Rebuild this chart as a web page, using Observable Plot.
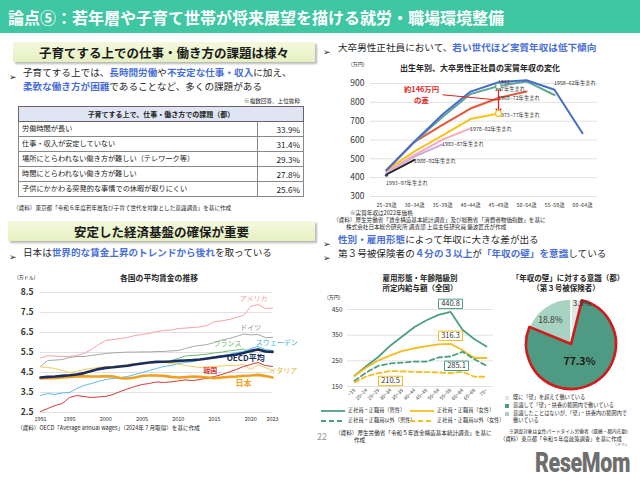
<!DOCTYPE html>
<html><head><meta charset="utf-8">
<script src="https://cdn.jsdelivr.net/npm/d3@7"></script>
<script src="https://cdn.jsdelivr.net/npm/@observablehq/plot@0.6"></script>
<style>
html,body{margin:0;padding:0;background:#fff;}
#slide{position:relative;width:640px;height:478px;overflow:hidden;background:#fff;font-family:"Noto Sans CJK JP","Noto Sans",sans-serif;color:#262626;}
.t{position:absolute;white-space:nowrap;line-height:1.15;}
.hl{color:#4a6fd6;font-weight:bold;}
.box{position:absolute;background:linear-gradient(#f4f9de,#e5f0c0);box-shadow:2px 2px 2px rgba(0,0,0,0.28);display:flex;align-items:center;justify-content:center;font-weight:bold;font-size:12.5px;color:#1a1a1a;}
.chart{position:absolute;}
.chart svg{overflow:visible;}
table.tb{position:absolute;border-collapse:collapse;font-size:7.2px;color:#222;}
table.tb td, table.tb th{padding:0;line-height:1;}
</style></head><body><div id="slide"></div>
<script>
const FONT = '"Noto Sans CJK JP","Noto Sans",sans-serif';

// ---------- data ----------
const issueLabels = ["労働時間が長い","仕事・収入が安定していない","場所にとらわれない働き方が難しい（テレワーク等）","時間にとらわれない働き方が難しい","子供にかかわる突発的な事情での休暇が取りにくい"];
const issueValues = [33.9, 31.4, 29.3, 27.8, 25.6];

const years = [1991,1992,1993,1994,1995,1996,1997,1998,1999,2000,2001,2002,2003,2004,2005,2006,2007,2008,2009,2010,2011,2012,2013,2014,2015,2016,2017,2018,2019,2020,2021,2022,2023];
const yearTicks = [1991,1995,2000,2005,2010,2015,2020,2023];
const wageTicks = [2.5,3.5,4.5,5.5,6.5,7.5,8.5];
const usa     = [5.22,5.34,5.32,5.3,5.3,5.35,5.45,5.65,5.9,6.1,6.15,6.2,6.25,6.35,6.4,6.45,6.55,6.6,6.62,6.7,6.72,6.75,6.78,6.85,7.05,7.08,7.15,7.25,7.35,7.8,7.9,7.7,7.72];
const germany = [4.8,5.1,5.12,5.15,5.25,5.3,5.3,5.35,5.4,5.45,5.48,5.5,5.52,5.52,5.53,5.53,5.55,5.55,5.58,5.6,5.7,5.8,5.85,5.9,6.0,6.12,6.2,6.3,6.42,6.38,6.4,6.25,6.25];
const france  = [4.2,4.28,4.3,4.33,4.38,4.42,4.45,4.55,4.65,4.72,4.78,4.82,4.88,4.92,4.98,5.0,5.03,5.05,5.1,5.2,5.33,5.35,5.38,5.42,5.48,5.52,5.58,5.62,5.68,5.45,5.7,5.6,5.55];
const sweden  = [3.35,3.45,3.4,3.48,3.5,3.7,3.85,3.95,4.05,4.15,4.2,4.25,4.3,4.4,4.5,4.6,4.7,4.8,4.85,4.95,5.0,5.05,5.15,5.2,5.3,5.35,5.4,5.5,5.55,5.7,5.8,5.65,5.6];
const oecdAvg = [4.25,4.28,4.3,4.33,4.36,4.4,4.47,4.57,4.67,4.73,4.76,4.8,4.84,4.9,4.95,5.0,5.03,5.04,5.05,5.08,5.1,5.12,5.15,5.2,5.25,5.3,5.35,5.4,5.48,5.58,5.65,5.55,5.53];
const italy   = [4.78,4.75,4.7,4.6,4.5,4.55,4.65,4.7,4.75,4.78,4.8,4.85,4.9,4.95,4.95,4.97,5.0,5.0,4.95,4.92,4.85,4.8,4.75,4.78,4.8,4.83,4.85,4.85,4.9,4.65,4.88,4.75,4.6];
const japan   = [4.2,4.23,4.22,4.25,4.28,4.3,4.32,4.3,4.3,4.32,4.3,4.22,4.2,4.25,4.33,4.35,4.35,4.33,4.28,4.25,4.27,4.3,4.28,4.25,4.22,4.25,4.28,4.3,4.33,4.35,4.38,4.33,4.25];
const korea   = [2.55,2.7,2.85,2.95,3.25,3.35,3.3,3.25,3.28,3.3,3.4,3.55,3.68,3.8,3.9,3.95,4.03,4.0,4.03,4.08,4.13,4.1,4.15,4.22,4.3,4.4,4.52,4.65,4.8,4.9,5.0,4.85,4.8];

const genCats = ["25~29歳","30~34歳","35~39歳","40~44歳","45~49歳","50~54歳","55~59歳","60~64歳"];
const genTicks = [300,400,500,600,700,800,900];
const gen1958 = [440,592,735,857,907,917,867,636];
const gen1963 = [440,590,722,844,886,911,839];
const gen1968 = [440,590,680,767,823,858];
const gen1973 = [440,540,624,711,741];
const gen1978 = [432,520,602,662];
const gen1983 = [428,512,577];
const gen1988 = [418,494];
const gen1993 = [413];

const ageCats = ["~19","20~24","25~29","30~34","35~39","40~44","45~49","50~54","55~59","60~64","65~69","70~"];
const payTicks = [150,250,350,450];
const maleRegular    = [192,230,266,310,346,382,408,429,440.8,371,334,306];
const femaleRegular  = [192,224,252,271,289,299,307,314,316.3,291,261,261];
const maleNonReg     = [172,205,231,240,243,247,247,263,267,285.1,256,231];
const femaleNonReg   = [166,190,202,210.5,209,207,206,205,202,208,188,188];

const pieLabels = ["既に「壁」を超えて働いている","意識して「壁」・扶養の範囲内で働いている","意識したことはないが、「壁」・扶養内の範囲内で働いている"];
const pieValues = [3.9, 77.3, 18.8];

// ---------- helpers ----------
const slide = document.getElementById("slide");
function T(x, y, html, css = "", anchor = "start") {
  const d = document.createElement("div");
  d.className = "t";
  d.innerHTML = html;
  d.style.cssText += `left:${x}px;top:${y}px;` + css;
  const tx = anchor === "middle" ? "-50%" : anchor === "end" ? "-100%" : "0";
  d.style.transform = `translate(${tx},-50%)`;
  slide.appendChild(d);
  return d;
}
function place(node, x, y) {
  const w = document.createElement("div");
  w.className = "chart"; w.style.left = x + "px"; w.style.top = y + "px";
  w.appendChild(node); slide.appendChild(w);
}
function box(x, y, w, h, text) {
  const d = document.createElement("div");
  d.className = "box";
  d.style.cssText += `left:${x}px;top:${y}px;width:${w}px;height:${h}px;`;
  d.textContent = text; slide.appendChild(d);
}
const BUL = '<span style="font-family:DejaVu Sans;font-size:9px;">➢</span>';

// ---------- header ----------
const bar = document.createElement("div");
bar.style.cssText = "position:absolute;left:0;top:0;width:640px;height:33px;background:#3fc6a3;";
slide.appendChild(bar);
T(8, 17, "論点⑤：若年層や子育て世帯が将来展望を描ける就労・職場環境整備", "color:#fff;font-weight:bold;font-size:16px;");

// ---------- left top ----------
box(13, 42, 302, 20, "子育てする上での仕事・働き方の課題は様々");
T(9, 73, BUL, "");
T(23, 73, '子育てする上では、<span class="hl">長時間労働</span>や<span class="hl">不安定な仕事・収入</span>に加え、', "font-size:9.6px;");
T(23, 87, '<span class="hl">柔軟な働き方が困難</span>であることなど、多くの課題がある', "font-size:9.6px;");
T(300, 101, "※複数回答、上位抜粋", "font-size:5.6px;", "end");

const tb = document.createElement("table");
tb.className = "tb";
tb.style.cssText += "left:18px;top:106px;width:286px;border:1px solid #555;";
let rows = `<tr><th colspan="2" style="height:14px;background:#dfe5f3;border:1px solid #666;font-size:7px;font-weight:bold;">子育てする上で、仕事・働き方での課題（都）</th></tr>`;
issueLabels.forEach((l, i) => {
  rows += `<tr><td style="height:14px;border:1px solid #888;padding-left:3px;">${l}</td><td style="width:42px;text-align:right;padding-right:3px;border:1px solid #888;font-size:8.2px;">${issueValues[i].toFixed(1)}%</td></tr>`;
});
tb.innerHTML = rows;
slide.appendChild(tb);
T(13, 208, "（資料）東京都「令和６年度若年層及び子育て世代を対象とした意識調査」を基に作成", "font-size:5.6px;");

// ---------- left bottom ----------
box(8, 221, 307, 20, "安定した経済基盤の確保が重要");
T(9, 253, BUL, "");
T(23, 253, '日本は<span class="hl">世界的な賃金上昇のトレンドから後れ</span>を取っている', "font-size:9.6px;");
T(159, 278, "各国の平均賃金の推移", "font-size:7.8px;font-weight:bold;", "middle");
T(17, 277, "(万ドル)", "font-size:5px;");
T(17, 428, "（資料）OECD「Average annual wages」（2024年７月取得）を基に作成", "font-size:5.6px;");

const oecdSeries = [
  {name:"アメリカ", values:usa, color:"#f3a3ab", w:1},
  {name:"ドイツ", values:germany, color:"#a8a8a8", w:1},
  {name:"フランス", values:france, color:"#6db86d", w:1},
  {name:"スウェーデン", values:sweden, color:"#5cbde8", w:1},
  {name:"イタリア", values:italy, color:"#f4cc5c", w:1},
  {name:"韓国", values:korea, color:"#d23a3a", w:1},
  {name:"日本", values:japan, color:"#f0a020", w:2.6},
  {name:"OECD平均", values:oecdAvg, color:"#1b2d5c", w:2.6}
];
const oecdLabelSpec = [
  {name:"アメリカ", year:2020.4, value:8.18, color:"#f3a3ab", weight:"normal", size:7},
  {name:"ドイツ", year:2020.0, value:6.74, color:"#8c8c8c", weight:"normal", size:7},
  {name:"フランス", year:2016.8, value:5.94, color:"#6db86d", weight:"normal", size:7},
  {name:"スウェーデン", year:2023.6, value:5.99, color:"#3ab0e2", weight:"normal", size:7},
  {name:"OECD平均", year:2019.3, value:5.19, color:"#1b2d5c", weight:"bold", size:8},
  {name:"韓国", year:2014.4, value:4.59, color:"#d23a3a", weight:"bold", size:7},
  {name:"イタリア", year:2024.5, value:4.59, color:"#e8b530", weight:"normal", size:7},
  {name:"日本", year:2019.0, value:3.94, color:"#f0a020", weight:"bold", size:8}
];
const oecdPlot = Plot.plot({
  width: 320, height: 160,
  marginLeft: 40, marginRight: 48, marginTop: 22, marginBottom: 18,
  style: {fontFamily: FONT, fontSize: "6px", color: "#333", background: "transparent", overflow: "visible"},
  x: {domain: [1991, 2023]},
  y: {domain: [2.5, 8.5]},
  marks: [
    Plot.gridY(wageTicks, {stroke: "#d9d9d9", strokeOpacity: 1, strokeWidth: 0.8}),
    Plot.axisY(wageTicks, {tickSize: 0, tickPadding: 7, tickFormat: d3.format(".1f"), fontSize: 8.5, fontWeight: "bold", fill: "#333", label: null}),
    Plot.axisX(yearTicks, {tickSize: 0, tickPadding: 5, tickFormat: d => String(d), fontSize: 5.5, label: null}),
    ...oecdSeries.map(s => Plot.line(years.map((y, i) => ({year: y, value: s.values[i]})), {x: "year", y: "value", stroke: s.color, strokeWidth: s.w})),
    ...oecdLabelSpec.map(l => Plot.text([l], {x: "year", y: "value", text: "name", fill: l.color, fontWeight: l.weight, fontSize: l.size}))
  ]
});
place(oecdPlot, 0, 270);

// ---------- right top ----------
T(323, 48, BUL, "");
T(338, 48, '大卒男性正社員において、<span class="hl">若い世代ほど実質年収は低下傾向</span>', "font-size:9.6px;");
T(480, 68, "出生年別、大卒男性正社員の実質年収の変化", "font-size:8px;font-weight:bold;", "middle");
T(351, 64, "(万円)", "font-size:5px;");
T(350, 213, "※実質年収は2022年価格", "font-size:5.6px;");
T(333, 220, "（資料）厚生労働省「賃金構造基本統計調査」及び総務省「消費者物価指数」を基に", "font-size:5.6px;");
T(346, 227, "株式会社日本総合研究所 調査部 上席主任研究員 藤波匠氏が作成", "font-size:5.6px;");

const genSeries = [
  {name:"1993~97年生まれ", values:gen1993, color:"#2e4a6b"},
  {name:"1988~92年生まれ", values:gen1988, color:"#222222"},
  {name:"1983~87年生まれ", values:gen1983, color:"#c9a9dd"},
  {name:"1978~82年生まれ", values:gen1978, color:"#f4a8c6"},
  {name:"1973~77年生まれ", values:gen1973, color:"#f8c21a"},
  {name:"1968~72年生まれ", values:gen1968, color:"#e0593a"},
  {name:"1963~67年生まれ", values:gen1963, color:"#5ea895"},
  {name:"1958~62年生まれ", values:gen1958, color:"#4a6cc8"}
];
const genLabelSpec = [
  {t:"1958~62年生まれ", cat:"55~59歳", v:898, dx:1},
  {t:"1968~72年生まれ", cat:"45~49歳", v:818, dx:6},
  {t:"1973~77年生まれ", cat:"45~49歳", v:731, dx:5},
  {t:"1978~82年生まれ", cat:"40~44歳", v:653, dx:4},
  {t:"1983~87年生まれ", cat:"35~39歳", v:573, dx:4},
  {t:"1988~92年生まれ", cat:"30~34歳", v:483, dx:5},
  {t:"1993~97年生まれ", cat:"25~29歳", v:366, dx:0}
];
const gen1963Label = [{t:"1963~", cat:"45~49歳", v:904, dx:11}, {t:"67年生まれ", cat:"45~49歳", v:866, dx:16}];
const gapArrows = [{cat:"45~49歳", from:813, to:881}, {cat:"45~49歳", from:813, to:746}];
const gapMarks = [{cat:"45~49歳", v:886, c:"#5ea895"}, {cat:"45~49歳", v:741, c:"#f8c21a"}];
const RED = "#e3241c";
const genPlot = Plot.plot({
  width: 300, height: 160,
  marginLeft: 50, marginRight: 23, marginTop: 28, marginBottom: 19,
  style: {fontFamily: FONT, fontSize: "6px", color: "#333", background: "transparent", overflow: "visible"},
  x: {type: "point", domain: genCats, padding: 0.55},
  y: {domain: [300, 900]},
  marks: [
    Plot.gridY(genTicks, {stroke: "#d9d9d9", strokeOpacity: 1, strokeWidth: 0.8}),
    Plot.axisY(genTicks, {tickSize: 0, tickPadding: 6, fontSize: 8.5, fill: "#333", label: null}),
    Plot.axisX({tickSize: 0, tickPadding: 7, fontSize: 5.3, label: null}),
    ...genSeries.map(s => Plot.line(s.values.map((v, i) => ({cat: genCats[i], v})), {x: "cat", y: "v", stroke: s.color, strokeWidth: 2})),
    Plot.dot([{cat: genCats[0], v: gen1993[0]}], {x: "cat", y: "v", r: 1.6, fill: "#2e4a6b"}),
    Plot.text(genLabelSpec, {x: "cat", y: "v", text: "t", dx: "dx", textAnchor: "start", fontSize: 5.3, fill: "#333"}),
    Plot.text(gen1963Label, {x: "cat", y: "v", text: "t", dx: "dx", textAnchor: "start", fontSize: 5.3, fill: "#333"}),
    Plot.link([{a: "35~39歳", b: "45~49歳", y1: 840, y2: 812}], {x1: "a", x2: "b", y1: "y1", y2: "y2", stroke: RED, strokeWidth: 1}),
    Plot.arrow(gapArrows, {x1: "cat", x2: "cat", y1: "from", y2: "to", stroke: RED, strokeWidth: 1.3, headLength: 6, headAngle: 70}),
    Plot.dot(gapMarks, {x: "cat", y: "v", r: 3, stroke: "c", fill: "#fff", strokeWidth: 1.2}),
    Plot.text([{cat: "30~34歳", v: 869, t: "約146万円"}, {cat: "30~34歳", v: 810, t: "の差"}], {x: "cat", y: "v", text: "t", dx: 7, fill: RED, fontWeight: "bold", fontSize: 7.4})
  ]
});
place(genPlot, 320, 55);

// ---------- right bottom ----------
T(323, 240, BUL, "");
T(338, 240, '<span class="hl">性別・雇用形態</span>によって年収に大きな差が出る', "font-size:9.6px;");
T(323, 254, BUL, "");
T(338, 254, '第３号被保険者の<span class="hl">４分の３以上</span>が<span class="hl">「年収の壁」を意識</span>している', "font-size:9.6px;");

T(420, 278, "雇用形態・年齢階級別", "font-size:7.5px;font-weight:bold;", "middle");
T(420, 288, "所定内給与額（全国）", "font-size:7.5px;font-weight:bold;", "middle");
T(327, 297, "(万円)", "font-size:5px;");

const TEAL = "#4d9e87", YEL = "#f5bd1f";
const paySeries = [
  {name:"正社員・正職員（男性）", values:maleRegular, color:TEAL, dash:null},
  {name:"正社員・正職員（女性）", values:femaleRegular, color:YEL, dash:null},
  {name:"正社員・正職員以外（男性）", values:maleNonReg, color:TEAL, dash:"5,3"},
  {name:"正社員・正職員以外（女性）", values:femaleNonReg, color:YEL, dash:"5,3"}
];
const boxSym = {draw(ctx) { ctx.moveTo(-12, -4.7); ctx.lineTo(12, -4.7); ctx.lineTo(12, 4.7); ctx.lineTo(-12, 4.7); ctx.closePath(); }};
const callouts = [
  {cat:"55~59", v:440.8, c:TEAL, dx:0, dy:-8},
  {cat:"55~59", v:316.3, c:YEL, dx:0, dy:-8},
  {cat:"60~64", v:285.1, c:TEAL, dx:-6, dy:14},
  {cat:"30~34", v:210.5, c:YEL, dx:0, dy:10}
];
const payPlot = Plot.plot({
  width: 175, height: 120,
  marginLeft: 27, marginRight: 2, marginTop: 14, marginBottom: 29,
  style: {fontFamily: FONT, fontSize: "6px", color: "#333", background: "transparent", overflow: "visible"},
  x: {type: "point", domain: ageCats, padding: 0.5},
  y: {domain: [150, 450]},
  marks: [
    Plot.gridY(payTicks, {stroke: "#d9d9d9", strokeOpacity: 1, strokeWidth: 0.8}),
    Plot.axisY(payTicks, {tickSize: 0, tickPadding: 5, fontSize: 6.5, fill: "#333", label: null}),
    Plot.axisX({tickSize: 0, tickPadding: 3, tickRotate: -45, fontSize: 5, label: null}),
    ...paySeries.map(s => Plot.line(s.values.map((v, i) => ({cat: ageCats[i], v})), {x: "cat", y: "v", stroke: s.color, strokeWidth: 1.8, strokeDasharray: s.dash})),
    ...callouts.map(c => Plot.dot([c], {x: "cat", y: "v", symbol: boxSym, fill: "#fff", stroke: c.c, strokeWidth: 1, dx: c.dx, dy: c.dy})),
    ...callouts.map(c => Plot.text([c], {x: "cat", y: "v", text: d => d.v.toFixed(1), fill: "#333", fontSize: 7.5, dx: c.dx, dy: c.dy}))
  ]
});
place(payPlot, 320, 295);

// legend for pay chart
function legLine(x, y, color, dash, label) {
  const s = `<svg width="24" height="4" style="vertical-align:middle"><line x1="0" y1="2" x2="24" y2="2" stroke="${color}" stroke-width="1.8" ${dash ? `stroke-dasharray="${dash}"` : ""}/></svg>`;
  T(x, y, s + `<span style="margin-left:3px">${label}</span>`, "font-size:5.2px;");
}
legLine(321, 410, TEAL, null, paySeries[0].name);
legLine(410, 410, YEL, null, paySeries[1].name);
legLine(321, 420, TEAL, "5,3", paySeries[2].name);
legLine(410, 420, YEL, "5,3", paySeries[3].name);
T(317, 437, "22", "font-size:9px;color:#9a9a9a;");
T(335, 433, "（資料）厚生労働省「令和５年賃金構造基本統計調査」を基に", "font-size:5.6px;");
T(354, 440, "作成", "font-size:5.6px;");

// pie
T(568, 278, "「年収の壁」に対する意識（都）", "font-size:7.5px;font-weight:bold;", "middle");
T(566, 288, "（第３号被保険者）", "font-size:7.5px;font-weight:bold;", "middle");
const pieColors = ["#dde8e3", "#4f9a83", "#a8d3c3"];
const pieData = pieLabels.map((l, i) => ({label: l, value: pieValues[i], color: pieColors[i]}));
const piePlot = Plot.plot({
  width: 140, height: 100, margin: 0,
  style: {fontFamily: FONT, background: "transparent", overflow: "visible"},
  x: {domain: [-76 / 45, 64 / 45], axis: null},
  y: {domain: [-51 / 45, 49 / 45], axis: null},
  marks: [
    (index, scales) => {
      const cx = scales.x(0), cy = scales.y(0), r = scales.x(1) - scales.x(0);
      const g = d3.create("svg:g").attr("transform", `translate(${cx},${cy})`);
      const arcs = d3.pie().sort(null).value(d => d.value)(pieData);
      const arc = d3.arc().innerRadius(0).outerRadius(r);
      const order = [0, 2, 1];
      order.forEach(i => {
        const a = arcs[i];
        const big = i === 1;
        g.append("path").attr("d", arc(a)).attr("fill", a.data.color)
          .attr("stroke", big ? "#cf1b1b" : "#fff").attr("stroke-width", big ? 2.6 : 1.5).attr("stroke-linejoin", "round");
      });
      const lab = [
        {f: 0.93, dx: 6, dy: 0, size: 8, w: "normal", c: "#333"},
        {f: 0.42, dx: 0, dy: 0, size: 10.5, w: "bold", c: "#1a1a1a"},
        {f: 0.66, dx: -4, dy: 0, size: 8.5, w: "normal", c: "#333"}
      ];
      arcs.forEach((a, i) => {
        const m = (a.startAngle + a.endAngle) / 2;
        const rr = r * lab[i].f;
        g.append("text").attr("x", Math.sin(m) * rr + lab[i].dx).attr("y", -Math.cos(m) * rr + lab[i].dy)
          .attr("text-anchor", "middle").attr("dominant-baseline", "central")
          .attr("font-size", lab[i].size).attr("font-weight", lab[i].w).attr("fill", lab[i].c)
          .text(a.data.value.toFixed(1) + "%");
      });
      return g.node();
    }
  ]
});
place(piePlot, 495, 295);

// pie legend
const legY = [397, 405, 413];
pieData.forEach((d, i) => {
  T(505, legY[i], `<span style="display:inline-block;width:4px;height:4px;background:${d.color};margin-right:4px;vertical-align:middle"></span>` + (i === 2 ? "意識したことはないが、「壁」・扶養内の範囲内で" : d.label), "font-size:5.2px;");
});
T(513, 420, "働いている", "font-size:5.2px;");
T(509, 432, "※調査対象は女性パートタイム労働者（既婚・都内在勤）", "font-size:4.7px;");
T(500, 439, "（資料）東京都「令和５年度政策調査」を基に作成", "font-size:5.3px;");

// logo
const logo = T(535, 463, "ReseMom", "font-family:Roboto;font-weight:900;font-size:28px;color:#6e6e6e;letter-spacing:-0.5px;line-height:1;");
const lw = logo.getBoundingClientRect().width;
logo.style.transformOrigin = "0 50%";
logo.style.transform = `translate(0,-50%) scaleX(${95 / lw})`;
T(621, 444.5, "リセマム", "font-size:3.3px;color:#777;line-height:1;", "middle");
</script></body></html>
